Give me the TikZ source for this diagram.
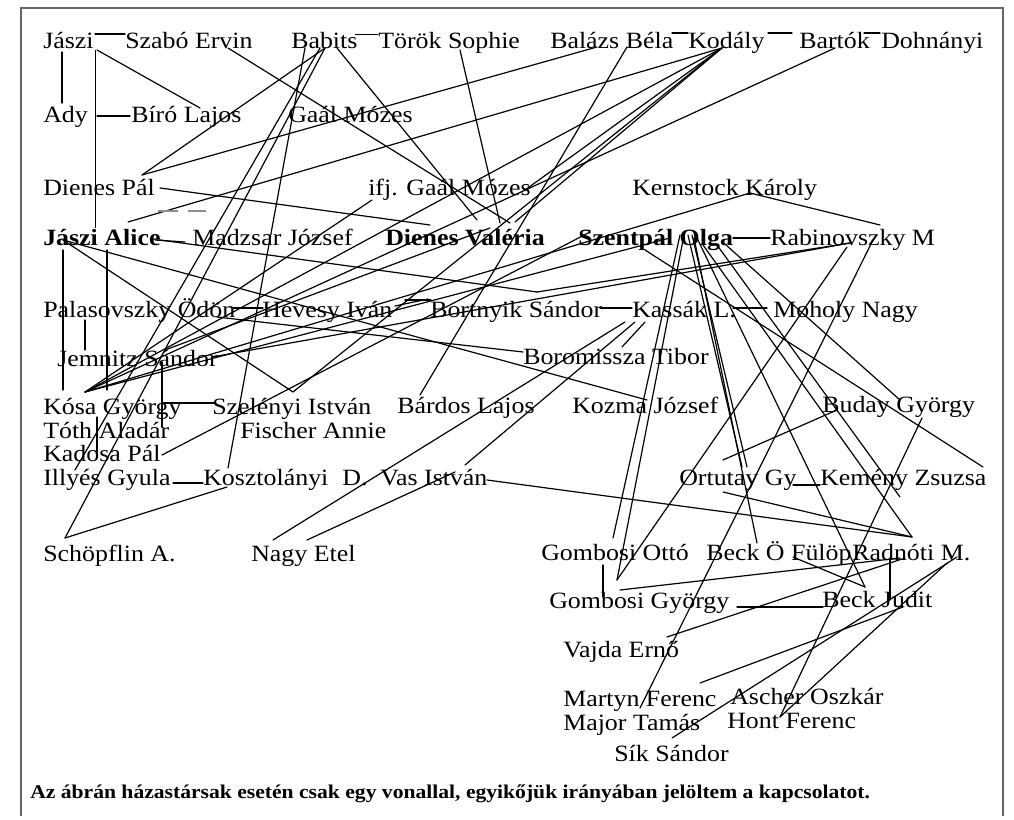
\documentclass[tikz,border=0pt]{standalone}
\usepackage{fontspec}
\setmainfont{Liberation Serif}[FakeStretch=1.11]
\begin{document}
\begin{tikzpicture}[x=0.75pt,y=-0.75pt,
  lbl/.style={anchor=base west, inner sep=0pt, font=\fontsize{17.5}{20}\selectfont},
  lblb/.style={anchor=base west, inner sep=0pt, font=\fontsize{17.5}{20}\selectfont\bfseries},
  capt/.style={anchor=base west, inner sep=0pt, font=\fontsize{14.6}{17}\selectfont\bfseries},
  con/.style={line width=0.9pt, black, line cap=round},
  thincon/.style={line width=0.6pt, black},
  dashmark/.style={line width=1.4pt, black!45},
  frame/.style={line width=1.5pt, black!60}]
\useasboundingbox (0,0) rectangle (1014,820);
% frame
\coordinate (fBL) at (21,816); \coordinate (fTL) at (21,8);
\coordinate (fTR) at (1003,8); \coordinate (fBR) at (1003,816);
\draw[frame] (fBL) -- (fTL) -- (fTR) -- (fBR);
% labels
\node[lbl] (jaszi) at (43,49) {Jászi};
\node[lbl] (szabo) at (125,49) {Szabó Ervin};
\node[lbl] (babits) at (291,49) {Babits};
\node[lbl] (torok) at (378,49) {Török Sophie};
\node[lbl] (balazs) at (550,49) {Balázs Béla};
\node[lbl] (kodaly) at (688,49) {Kodály};
\node[lbl] (bartok) at (799,49) {Bartók};
\node[lbl] (dohnanyi) at (881,49) {Dohnányi};
\node[lbl] (ady) at (43,123) {Ady};
\node[lbl] (biro) at (131,123) {Bíró Lajos};
\node[lbl] (gaal) at (288,123) {Gaál Mózes};
\node[lbl] (dienesp) at (43,196) {Dienes Pál};
\node[lbl] (ifjgaal) at (368,196) {ifj. Gaál Mózes};
\node[lbl] (kernstock) at (632,196) {Kernstock Károly};
\node[lblb] (alice) at (43,245) {Jászi Alice};
\node[lbl] (madzsar) at (192,245) {Madzsar József};
\node[lblb] (valeria) at (385,245) {Dienes Valéria};
\node[lblb] (olga) at (578,245) {Szentpál Olga};
\node[lbl] (rabin) at (770,245) {Rabinovszky M};
\node[lbl] (palas) at (43,317) {Palasovszky Ödön};
\node[lbl] (hevesy) at (262,317) {Hevesy Iván};
\node[lbl] (bortnyik) at (430,317) {Bortnyik Sándor};
\node[lbl] (kassak) at (632,317) {Kassák L.};
\node[lbl] (moholy) at (773,317) {Moholy Nagy};
\node[lbl] (jemnitz) at (57,366) {Jemnitz Sándor};
\node[lbl] (boromissza) at (523,364) {Boromissza Tibor};
\node[lbl] (kosa) at (43,414) {Kósa György};
\node[lbl] (szelenyi) at (212,414) {Szelényi István};
\node[lbl] (bardos) at (397,413) {Bárdos Lajos};
\node[lbl] (kozma) at (572,413) {Kozma József};
\node[lbl] (buday) at (822,412) {Buday György};
\node[lbl] (toth) at (43,438) {Tóth Aladár};
\node[lbl] (fischer) at (240,438) {Fischer Annie};
\node[lbl] (kadosa) at (43,461) {Kadosa Pál};
\node[lbl] (illyes) at (43,485) {Illyés Gyula};
\node[lbl] (koszt) at (203,485) {Kosztolányi\hspace{0.6em}D.};
\node[lbl] (vas) at (380,485) {Vas István};
\node[lbl] (ortutay) at (679,485) {Ortutay Gy};
\node[lbl] (kemeny) at (820,485) {Kemény Zsuzsa};
\node[lbl] (schopflin) at (43,561) {Schöpflin A.};
\node[lbl] (nagyetel) at (251,561) {Nagy Etel};
\node[lbl] (gombosio) at (541,560) {Gombosi Ottó};
\node[lbl] (becko) at (706,560) {Beck Ö Fülöp};
\node[lbl] (radnoti) at (852,560) {Radnóti M.};
\node[lbl] (gombosig) at (549,608) {Gombosi György};
\node[lbl] (beckj) at (822,607) {Beck Judit};
\node[lbl] (vajda) at (563,657) {Vajda Ernő};
\node[lbl] (martyn) at (563,706) {Martyn Ferenc};
\node[lbl] (ascher) at (730,704) {Ascher Oszkár};
\node[lbl] (major) at (563,730) {Major Tamás};
\node[lbl] (hont) at (727,728) {Hont Ferenc};
\node[lbl] (sik) at (614,761) {Sík Sándor};
\node[capt] (caption) at (30,798) {Az ábrán házastársak esetén csak egy vonallal, egyikőjük irányában jelöltem a kapcsolatot.};
% connector end points
\foreach \n/\x/\y in {jA/95/34, szL/125/34, jB/62/52, adyT/62/103, jC/95/50, aliceT/95/228,
  bvert/97/116, biroL/130/116, jD/97/50, biroT/200/108, szE/228/48, valA/510/223,
  babR/355/34, torL/378/34, babD/337/48, valB/477/220, babC/325/48, dpal/142/175,
  schT/65/538, babC2/320/48, illT/75/470, babB/305/48, koszT/228/468,
  torB/460/50, valC/500/223, balA/597/47, balB/627/47, bardT/420/395,
  kod/722/48, aliceR/128/222, valD/515/222, szelT/293/392, kosaF/85/392, ifjE/525/190,
  balR/672/33, kodL/688/33, kodR/768/33, barL/792/33, barR/864/33, dohL/880/33,
  bar/835/48, kern/750/193, rabT/880/225, olgaL/670/238,
  dpalR/160/188, valL/430/225, aliceRR/155/240, madL/185/242,
  aliceB1/63/250, kosaT1/63/390, aliceB2/107/250, kosaT2/107/390,
  aliceA/63/240, kozT/647/400, aliceM/160/240, bortT/537/292, rabL/850/243, jemR/212/357,
  palB/85/320, jemT/85/350, palR/233/308, hevL/263/308,
  hevR1/395/306, bortL1/428/299, hevR2/405/300, bortL2/431/300,
  bortR/600/308, kasL/632/308, kasR/733/308, mohL/767/308, olgaR/733/238, rabLL/770/238,
  jemB/162/362, tothT/162/427, jemJ/162/403, szelL/215/403, kosaB/97/417, kadT/97/453,
  kadR/162/455, olgaS/590/232, illR/173/483, koszL/203/483, koszB/227/487,
  kasB1/625/322, netT1/273/540, kasB2/635/322, vasT/465/465, vasB/455/472, netT2/307/540,
  kasB3/645/322, borT/622/347, vasR/487/480, radT/912/537,
  ortB/723/492, ortR/793/485, kemL/820/485, budL/837/410, ortT/723/460,
  budR/922/418, hontT/780/717,
  oA/680/235, gottT/613/538, oB/684/235, ggyT/617/580, oC/688/235, ortTa/742/467,
  oD/692/235, ortTb/747/467, oE/694/238, beckOT/757/543, oF/697/238, beckJT/865/587,
  oG/703/245, oH/717/245, kemB/900/497, oI/726/245, budT/900/400, olgaP/645/250, kemR/983/467,
  rabBa/847/247, rabBb/873/240, majT/640/708, gottB/603/565, ggyTc/603/597,
  ggyR/737/607, beckJL/823/607, beckOB/793/557, radB/890/558, beckJTc/890/600,
  ggyB/620/590, radL/900/558, vajR/667/637, radLb/905/558,
  radMa/957/557, sikT/672/738, radMb/947/563, beckJB/903/607, martT/700/683,
  ifjL/372/200, jemS/165/350, valE/490/228, palRb/217/317, borL/523/352,
  da/158/211, db/178/211, dc/188/211, dd/206/211}
  \coordinate (\n) at (\x,\y);
% connectors
\foreach \a/\b in {jA/szL, jB/adyT, bvert/biroL, jD/biroT, szE/valA,
  babD/valB, babC/dpal, babC/schT, babC2/illT, babB/koszT, torB/valC, balA/dpal, balB/bardT,
  kod/aliceR, kod/valD, kod/szelT, kod/kosaF, kod/ifjE, balR/kodL, kodR/barL, barR/dohL,
  bar/kosaF, kern/kosaF, kern/rabT, olgaL/kosaF, dpalR/valL, aliceRR/madL,
  aliceB1/kosaT1, aliceB2/kosaT2, aliceA/szelT, aliceA/kozT, aliceM/bortT, rabL/bortT, jemR/rabL,
  palB/jemT, palR/hevL, hevR1/bortL1, hevR2/bortL2, bortR/kasL, kasR/mohL, olgaR/rabLL,
  jemB/tothT, jemJ/szelL, kosaB/kadT, kadR/olgaS, illR/koszL, koszB/schT,
  kasB1/netT1, kasB2/vasT, vasB/netT2, kasB3/borT, vasR/radT, ortB/radT, ortR/kemL,
  budL/ortT, budR/hontT, oA/gottT, oB/ggyT, oC/ortTa, oD/ortTb, oE/beckOT, oF/beckJT,
  oG/radT, oH/kemB, oI/budT, olgaP/kemR, rabBa/ggyT, rabBb/majT, gottB/ggyTc,
  ggyR/beckJL, beckOB/beckJT, radB/beckJTc, ggyB/radL, vajR/radLb, radMa/sikT, radMb/hontT,
  beckJB/martT, ifjL/kosaF, jemS/valE, palRb/borL}
  \draw[con] (\a) -- (\b);
\draw[thincon] (jC) -- (aliceT);
\draw[thincon] (babR) -- (torL);
\draw[dashmark] (da) -- (db);
\draw[dashmark] (dc) -- (dd);
\end{tikzpicture}
\end{document}
